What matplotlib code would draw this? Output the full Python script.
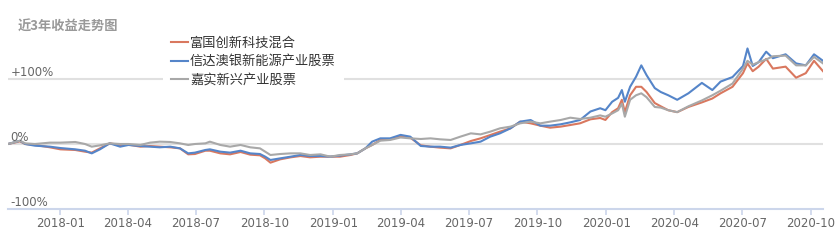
import matplotlib
matplotlib.use('Agg')
import matplotlib.pyplot as plt
import matplotlib.dates as mdates
import pandas as pd

plt.rcParams['font.family'] = ['Noto Sans CJK SC', 'DejaVu Sans']

TITLE = '近3年收益走势图'
names = ['富国创新科技混合', '信达澳银新能源产业股票', '嘉实新兴产业股票']
colors = ['#d9785f', '#5585c9', '#a8a8a8']

dates = [
    '2017-10-23', '2017-11-08', '2017-11-15', '2017-11-28', '2017-12-18',
    '2018-01-01', '2018-01-21', '2018-02-03', '2018-02-12', '2018-02-23',
    '2018-03-08', '2018-03-22', '2018-04-02', '2018-04-18', '2018-05-01',
    '2018-05-14', '2018-05-28', '2018-06-10', '2018-06-21', '2018-06-30',
    '2018-07-14', '2018-07-20', '2018-08-03', '2018-08-16', '2018-08-30',
    '2018-09-12', '2018-09-25', '2018-10-02', '2018-10-09', '2018-10-22',
    '2018-11-05', '2018-11-18', '2018-12-01', '2018-12-15', '2018-12-28',
    '2019-01-10', '2019-01-24', '2019-02-02', '2019-02-13', '2019-02-22',
    '2019-03-05', '2019-03-18', '2019-04-01', '2019-04-14', '2019-04-28',
    '2019-05-11', '2019-05-24', '2019-06-07', '2019-06-20', '2019-07-04',
    '2019-07-17', '2019-07-30', '2019-08-12', '2019-08-26', '2019-09-08',
    '2019-09-22', '2019-10-05', '2019-10-18', '2019-11-01', '2019-11-14',
    '2019-11-27', '2019-12-11', '2019-12-24', '2019-12-31', '2020-01-09',
    '2020-01-17', '2020-01-22', '2020-01-26', '2020-02-02', '2020-02-10',
    '2020-02-17', '2020-02-24', '2020-03-06', '2020-03-14', '2020-03-24',
    '2020-04-05', '2020-04-20', '2020-05-08', '2020-05-22', '2020-06-02',
    '2020-06-18', '2020-07-02', '2020-07-08', '2020-07-15', '2020-07-23',
    '2020-08-02', '2020-08-11', '2020-08-28', '2020-09-11', '2020-09-24',
    '2020-10-05', '2020-10-17',
]

fuguo = [
    0, 4, 0, -1.5, -5.1,
    -8.2, -9.2, -11.8, -13.3, -6.7,
    1.0, -1.5, -1.0, -4.1, -3.1,
    -4.1, -5.1, -6.7, -15.9, -15.4,
    -10.3, -10.3, -14.4, -15.9, -12.3,
    -16.4, -17.4, -22.1, -28.7, -23.6,
    -20.5, -18.5, -20.5, -19.5, -19.5,
    -19.5, -16.9, -14.4, -6.7, -1.5,
    6.2, 7.2, 12.0, 9.7, -2.0,
    -4.1, -5.6, -6.7, -1.5, 4.6,
    8.7, 13.8, 19.0, 24.1, 34.4,
    31.8, 28.2, 25.1, 26.7, 29.2,
    31.8, 38.0, 40.0, 37.0, 49.0,
    55.0, 68.0, 49.0, 75.0, 88.0,
    88.0, 80.0, 63.0, 58.0, 52.0,
    49.0, 57.0, 64.0, 70.0, 78.0,
    88.0, 109.0, 124.0, 112.0, 119.0,
    131.0, 116.0, 119.0, 102.0, 109.0,
    128.0, 112.0,
]

xinda = [
    0, 5, 0, -2.6, -4.1,
    -6.2, -8.2, -10.3, -14.4, -8.2,
    1.0, -4.1, -1.5, -3.1, -4.1,
    -5.1, -4.1, -6.7, -14.4, -13.3,
    -9.2, -8.2, -11.8, -13.3, -10.3,
    -14.4, -15.4, -19.5, -24.6, -22.1,
    -19.5, -16.9, -18.5, -18.5, -19.5,
    -17.9, -15.9, -14.4, -6.7, 3.6,
    8.7, 8.7, 14.0, 11.3, -3.0,
    -4.1, -4.1, -5.6, -1.5, 1.0,
    3.6, 11.3, 16.4, 24.1, 34.4,
    36.9, 28.2, 28.2, 30.3, 33.3,
    36.9, 50.0, 55.0, 52.0, 65.0,
    71.0, 83.0, 65.0, 88.0, 103.6,
    121.0, 106.0, 86.0, 80.0, 75.0,
    68.0, 78.0, 94.0, 83.0, 96.0,
    103.0, 120.0, 147.0, 120.0, 126.0,
    142.0, 132.0, 138.0, 124.0, 121.0,
    138.0, 128.0,
]

jiashi = [
    0, 5, 1, 0, 2.1,
    2.1, 3.1, 0, -4.1, -2.1,
    1.0, 0, 0, -1.5, 2.1,
    3.6, 3.1, 1.0, -1.5, 0,
    1.0, 3.6, -1.5, -4.1, -1.5,
    -5.1, -6.7, -11.8, -16.9, -15.4,
    -14.4, -14.4, -16.9, -15.9, -19.5,
    -16.9, -15.9, -14.4, -6.7, -1.5,
    5.1, 6.2, 10.0, 8.7, 7.7,
    8.7, 7.2, 6.2, 11.3, 16.4,
    14.8, 19.0, 24.1, 26.7, 31.8,
    34.4, 31.8, 34.4, 36.9, 40.5,
    38.5, 40.5, 44.0, 42.0, 47.0,
    52.0, 62.0, 42.0, 68.0, 75.0,
    78.0, 72.0, 57.0, 56.0, 52.0,
    49.0, 58.0, 67.0, 75.0, 82.0,
    93.0, 116.0, 128.0, 122.0, 126.0,
    130.0, 135.0, 136.0, 121.0, 121.0,
    134.0, 124.0,
]

yticks = [-100, 0, 100]
ytick_labels = ['-100%', '0%', '+100%']

x = pd.to_datetime(dates)

fig = plt.figure(figsize=(8.37, 2.43), dpi=100)
ax = fig.add_axes([8 / 837, 34 / 243, 815 / 837, 178.75 / 243])

for vals, name, c in zip([fuguo, xinda, jiashi], names, colors):
    ax.plot(x, vals, color=c, lw=1.5, label=name)

ax.set_xlim(x[0], x[-1])
ax.set_ylim(-100, 175)

# gridlines
for v in yticks[1:]:
    ax.axhline(v, color='#e0e0e0', lw=1.5, zorder=0)
ax.set_yticks([])

# y labels sit on top of the gridline
for v, lab in zip(yticks, ytick_labels):
    ax.text(0.003, v, lab, transform=ax.get_yaxis_transform(), fontsize=8.5,
            family='DejaVu Sans', color='#666666', va='bottom', ha='left')

for s in ['top', 'right', 'left']:
    ax.spines[s].set_visible(False)
ax.spines['bottom'].set_color('#ccd6eb')
ax.spines['bottom'].set_linewidth(1.5)

ax.xaxis.set_major_locator(mdates.MonthLocator(bymonth=[1, 4, 7, 10]))
ax.xaxis.set_major_formatter(mdates.DateFormatter('%Y-%m'))
ax.tick_params(axis='x', colors='#ccd6eb', length=4, width=1.2, pad=2,
               labelsize=8.5, labelcolor='#666666')
for lbl in ax.get_xticklabels():
    lbl.set_family('DejaVu Sans')

leg = ax.legend(loc='upper left', bbox_to_anchor=(163 / 837, 1 - 29 / 243),
                bbox_transform=fig.transFigure, frameon=True, fontsize=9.5,
                handlelength=1.3, handletextpad=0.15, labelspacing=0.4,
                borderpad=0.6, borderaxespad=0)
leg.get_frame().set_facecolor('white')
leg.get_frame().set_edgecolor('none')
leg.get_frame().set_alpha(1)
for t in leg.get_texts():
    t.set_color('#333333')

fig.text(18 / 837, 1 - 27 / 243, TITLE, fontsize=9.5, fontweight='bold',
         color='#999999', va='center', ha='left')

fig.savefig('out.png', dpi=100)
